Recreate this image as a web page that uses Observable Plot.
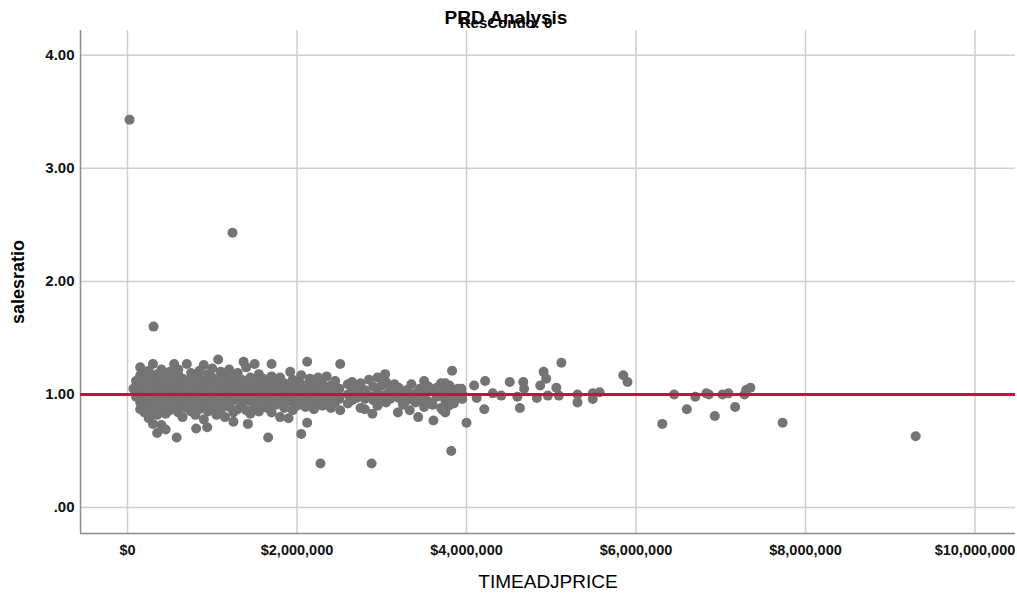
<!DOCTYPE html>
<html>
<head>
<meta charset="utf-8">
<script src="https://cdn.jsdelivr.net/npm/d3@7"></script>
<script src="https://cdn.jsdelivr.net/npm/@observablehq/plot@0.6"></script>
<style>
  html, body { margin: 0; padding: 0; background: #fff; }
  #wrap { position: relative; width: 1017px; height: 599px; }
  .ttl { position: absolute; left: 0; width: 1012px; text-align: center; font-family: "Liberation Sans", Arial, sans-serif; font-weight: bold; color: #000; line-height: 1; }
  #title { top: 8px; font-size: 19px; }
  #subtitle { top: 15px; font-size: 15px; }
</style>
</head>
<body>
<div id="wrap">
  <div id="chart"></div>
  <div class="ttl" id="subtitle">ResCondo: 0</div>
  <div class="ttl" id="title">PRD Analysis</div>
</div>
<script>
// price in thousands of dollars, ratio = salesratio
const outliers = [[24,3.43],[1239,2.43],[307,1.60],[2277,0.39],[2880,0.39],[3820,0.50],[9300,0.63],[7730,0.75],[6310,0.74]];

const farPoints = [
  [3830,1.21],[4000,0.75],[4220,1.12],[4210,0.87],[4510,1.11],[4630,0.88],[4670,1.11],[4910,1.20],[4940,1.14],
  [5120,1.28],[5310,0.93],[5310,1.00],[5490,0.96],[5570,1.02],[5490,1.01],[5850,1.17],[5900,1.11],
  [6450,1.00],[6600,0.87],[6700,0.98],[6830,1.01],[6860,1.00],[6930,0.81],[7020,1.00],[7090,1.01],
  [7170,0.89],[7280,1.00],[7300,1.04],[7350,1.06],
  [3940,1.05],[4090,1.08],[4120,0.97],[4310,1.01],[4410,0.99],[4600,0.98],[4680,1.05],[4830,0.97],
  [4870,1.08],[4960,0.99],[5060,1.06],[5090,0.99],[3750,1.10],[3780,0.95],[3720,0.86],[3790,0.90],[3870,0.96]
];

const denseCluster = [
  [70,1.05],[100,1.05],[100,0.98],[100,1.12],[100,1.02],
  [150,1.24],[150,1.10],[150,0.93],[150,1.03],[150,0.87],[150,1.17],
  [200,1.19],[200,1.06],[200,0.95],[200,0.84],[200,1.13],[200,1.00],
  [250,1.15],[250,1.02],[250,0.90],[250,0.79],[250,1.08],[250,0.97],[250,1.21],
  [300,1.27],[300,1.11],[300,0.99],[300,0.86],[300,0.74],[300,1.04],[300,0.92],
  [350,1.18],[350,1.07],[350,0.95],[350,0.66],[350,0.82],[350,1.13],[350,1.01],
  [400,1.22],[400,1.09],[400,0.97],[400,0.88],[400,0.73],[400,1.15],[400,1.03],
  [450,1.16],[450,1.04],[450,0.91],[450,0.69],[450,0.83],[450,1.10],[450,0.98],
  [500,1.20],[500,1.06],[500,0.94],[500,0.86],[500,1.13],[500,1.01],
  [550,1.27],[550,1.12],[550,0.99],[550,0.89],[580,0.62],[550,1.05],[550,0.93],
  [600,1.17],[600,1.08],[600,0.96],[600,0.84],[600,1.02],[600,1.22],
  [650,1.14],[650,1.03],[650,0.91],[650,0.80],[650,1.09],[650,0.97],
  [700,1.27],[700,1.11],[700,1.00],[700,0.88],[700,1.06],[700,0.94],
  [750,1.19],[750,1.07],[750,0.95],[750,0.85],[750,1.13],[750,1.02],
  [800,1.16],[800,1.04],[800,0.92],[810,0.70],[800,0.82],[800,1.10],[800,0.99],
  [850,1.21],[850,1.08],[850,0.96],[850,0.87],[850,1.14],[850,1.01],
  [900,1.26],[900,1.12],[900,1.03],[900,0.90],[900,0.78],[900,0.97],
  [950,1.18],[950,1.06],[950,0.94],[940,0.71],[950,0.85],[950,1.10],[950,1.00],
  [1000,1.23],[1000,1.09],[1000,0.98],[1000,0.88],[1000,1.15],[1000,1.04],
  [1070,1.31],[1050,1.13],[1050,1.02],[1050,0.91],[1050,0.82],[1050,1.07],[1050,0.96],
  [1100,1.20],[1100,1.08],[1100,0.97],[1100,0.86],[1100,1.14],[1100,1.01],
  [1150,1.17],[1150,1.05],[1150,0.93],[1150,0.80],[1150,1.11],[1150,0.99],
  [1200,1.22],[1200,1.10],[1200,0.99],[1200,0.89],[1200,1.04],[1200,0.94],
  [1250,1.16],[1250,1.06],[1250,0.95],[1250,0.76],[1250,0.84],[1250,1.12],[1250,1.01],
  [1300,1.19],[1300,1.08],[1300,0.97],[1300,0.87],[1300,1.03],
  [1370,1.29],[1350,1.13],[1350,1.01],[1350,0.91],[1350,1.07],[1350,0.96],
  [1400,1.24],[1400,1.09],[1400,0.98],[1420,0.74],[1400,0.86],[1400,1.04],
  [1450,1.15],[1450,1.05],[1450,0.94],[1450,0.83],[1450,1.11],[1450,1.00],
  [1500,1.27],[1500,1.12],[1500,1.02],[1500,0.90],[1500,0.97],
  [1550,1.18],[1550,1.07],[1550,0.95],[1550,0.85],[1550,1.03],
  [1600,1.14],[1600,1.04],[1600,0.92],[1600,1.10],[1600,0.99],
  [1700,1.27],[1650,1.09],[1650,0.98],[1650,0.88],[1660,0.62],[1650,1.05],
  [1700,1.16],[1700,1.06],[1700,0.94],[1700,0.84],[1700,1.01],
  [1750,1.12],[1750,1.03],[1750,0.91],[1750,1.08],[1750,0.97],
  [1800,1.15],[1800,1.05],[1800,0.95],[1800,0.80],[1800,1.00],
  [1850,1.10],[1850,1.02],[1850,0.92],[1850,1.07],[1850,0.88],
  [1920,1.20],[1900,1.06],[1900,0.97],[1900,0.79],[1900,1.01],
  [1950,1.13],[1950,1.04],[1950,0.93],[1950,0.86],[1950,1.08],
  [2000,1.11],[2000,1.01],[2000,0.90],[2050,0.65],[2000,0.96],
  [2050,1.17],[2050,1.05],[2050,0.94],[2050,1.09],
  [2120,1.29],[2100,1.08],[2100,0.99],[2120,0.75],[2100,0.89],
  [2150,1.14],[2150,1.03],[2150,0.93],[2150,1.10],
  [2200,1.07],[2200,0.98],[2200,0.87],[2200,1.13],
  [2250,1.15],[2250,1.02],[2250,0.92],[2250,1.06],
  [2300,1.09],[2300,0.99],[2300,0.90],
  [2350,1.16],[2350,1.04],[2350,0.95],
  [2400,1.08],[2400,0.97],[2400,0.88],
  [2450,1.12],[2450,1.01],[2450,0.93],
  [2510,1.27],[2500,1.05],[2500,0.96],[2510,0.86],
  [2600,1.09],[2600,1.00],[2600,0.92],
  [2650,1.03],[2650,0.95],[2650,1.11],
  [2700,1.06],[2700,0.97],[2750,0.88],
  [2750,1.10],[2750,1.01],[2800,0.87],
  [2800,1.04],[2800,0.96],
  [2850,1.13],[2890,0.83],[2850,0.99],
  [2900,1.07],[2900,0.95],
  [2950,1.15],[2950,1.02],[2950,0.90],
  [3000,1.08],[3000,0.97],[3040,1.18],
  [3050,1.11],[3050,1.00],[3050,0.93],
  [3100,1.05],[3100,0.96],
  [3150,1.02],[3190,0.84],[3150,1.09],
  [3200,1.06],[3200,0.97],
  [3250,1.00],[3250,0.91],
  [3330,0.86],[3300,1.04],[3300,0.95],
  [3350,1.09],[3350,0.99],
  [3430,0.80],[3400,1.01],[3400,0.93],
  [3450,1.05],[3450,0.96],
  [3500,1.12],[3500,1.00],[3500,0.89],
  [3550,1.07],[3550,0.94],
  [3610,0.77],[3600,1.03],[3600,0.91],
  [3650,1.06],[3650,0.98],
  [3700,1.10],[3700,1.00],[3700,0.88],
  [3750,1.04],[3750,0.84],[3750,0.95],
  [3800,1.08],[3800,0.97],
  [3850,1.02],[3850,0.92],
  [3900,1.05],[3950,1.00],[3950,0.96]
];

const referenceRatio = 1;
const xDomain = [-554600, 10478000];
const yDomain = [-0.229, 4.218];
const xTicks = [0, 2000000, 4000000, 6000000, 8000000, 10000000];
const yTicks = [0, 1, 2, 3, 4];

const rows = [...denseCluster, ...farPoints, ...outliers].map(([k, r]) => ({price: k * 1000, ratio: r}));

const font = '"Liberation Sans", Arial, sans-serif';
const narrow = '"Liberation Sans Narrow", "Arial Narrow", "Liberation Sans", sans-serif';

const chart = Plot.plot({
  width: 1017,
  height: 599,
  marginLeft: 80,
  marginRight: 2,
  marginTop: 30,
  marginBottom: 66,
  style: {fontFamily: font, background: "#fff", color: "#000", overflow: "visible"},
  x: {domain: xDomain},
  y: {domain: yDomain},
  marks: [
    Plot.gridX(xTicks, {stroke: "#cfcfcf", strokeOpacity: 1, strokeWidth: 1.5}),
    Plot.gridY(yTicks, {stroke: "#cfcfcf", strokeOpacity: 1, strokeWidth: 1.5}),
    Plot.ruleX([xDomain[0]], {stroke: "#8c8c8c", strokeWidth: 1.5}),
    Plot.ruleY([yDomain[0]], {stroke: "#8c8c8c", strokeWidth: 1.5}),
    Plot.axisX({ticks: xTicks, tickSize: 0, tickPadding: 11, tickFormat: d3.format("$,.0f"), label: null,
      fontFamily: narrow, fontWeight: "bold", fontSize: 14.5, fill: "#111"}),
    Plot.axisY({ticks: yTicks, tickSize: 0, tickPadding: 6, tickFormat: d => d === 0 ? ".00" : d.toFixed(2), label: null,
      fontWeight: "bold", fontSize: 15, fill: "#111"}),
    Plot.dot(rows, {x: "price", y: "ratio", r: 5, fill: "#747474", stroke: "none"}),
    Plot.ruleY([referenceRatio], {stroke: "#d50a3c", strokeWidth: 3}),
    Plot.text(["TIMEADJPRICE"], {frameAnchor: "bottom", dy: 54, fontSize: 19, fontFamily: narrow, fill: "#000"}),
    Plot.text(["salesratio"], {frameAnchor: "left", dx: -62, rotate: -90, textAnchor: "middle", fontSize: 18, fontWeight: "bold", fill: "#000"})
  ]
});
document.getElementById("chart").appendChild(chart);
</script>
</body>
</html>
